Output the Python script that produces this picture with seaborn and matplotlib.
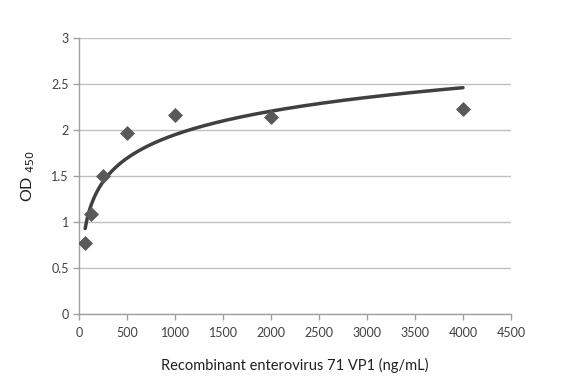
import numpy as np
import pandas as pd
import matplotlib
matplotlib.use('Agg')
import matplotlib.pyplot as plt
import seaborn as sns

# VP1 standard curve data
conc = [62.5, 125, 250, 500, 1000, 2000, 4000]
od450 = [0.77, 1.09, 1.50, 1.97, 2.17, 2.14, 2.23]

df = pd.DataFrame({'conc': conc, 'od': od450})

# logarithmic trendline fitted to the points
a, b = np.polyfit(np.log(df['conc']), df['od'], 1)
xfit = np.linspace(min(conc), max(conc), 300)
fit = pd.DataFrame({'conc': xfit, 'od': a * np.log(xfit) + b})

sns.set_style('white')
plt.rcParams['font.family'] = ['Lato', 'DejaVu Sans']

fig = plt.figure(figsize=(5.82, 3.82), dpi=100)
ax = fig.add_axes([0.136, 0.178, 0.742, 0.722])

sns.lineplot(data=fit, x='conc', y='od', ax=ax, color='#404040', linewidth=2.5)
sns.scatterplot(data=df, x='conc', y='od', ax=ax, marker='D', s=50,
                color='#595959', edgecolor='#595959', zorder=3)

ax.set_xlim(0, 4500)
ax.set_ylim(0, 3)
ax.set_xticks(np.arange(0, 4501, 500))
ax.set_yticks(np.arange(0, 3.01, 0.5))
ax.set_yticklabels(['0', '0.5', '1', '1.5', '2', '2.5', '3'])
ax.grid(axis='y', color='#c0c0c0', linewidth=1)
ax.set_axisbelow(True)
for s in ['top', 'right']:
    ax.spines[s].set_visible(False)
for s in ['left', 'bottom']:
    ax.spines[s].set_color('#a0a0a0')
    ax.spines[s].set_linewidth(1)
ax.tick_params(axis='both', length=4, width=1, color='#a0a0a0',
               labelsize=9, labelcolor='#404040', direction='out',
               bottom=True, left=True)
ax.tick_params(axis='x', pad=5)
ax.set_xlabel('Recombinant enterovirus 71 VP1 (ng/mL)', fontsize=10.5,
              color='#202020', labelpad=14)
ax.set_ylabel('OD $_{450}$', fontsize=11.5, color='#202020', labelpad=10)

fig.savefig('out.png', dpi=100)
